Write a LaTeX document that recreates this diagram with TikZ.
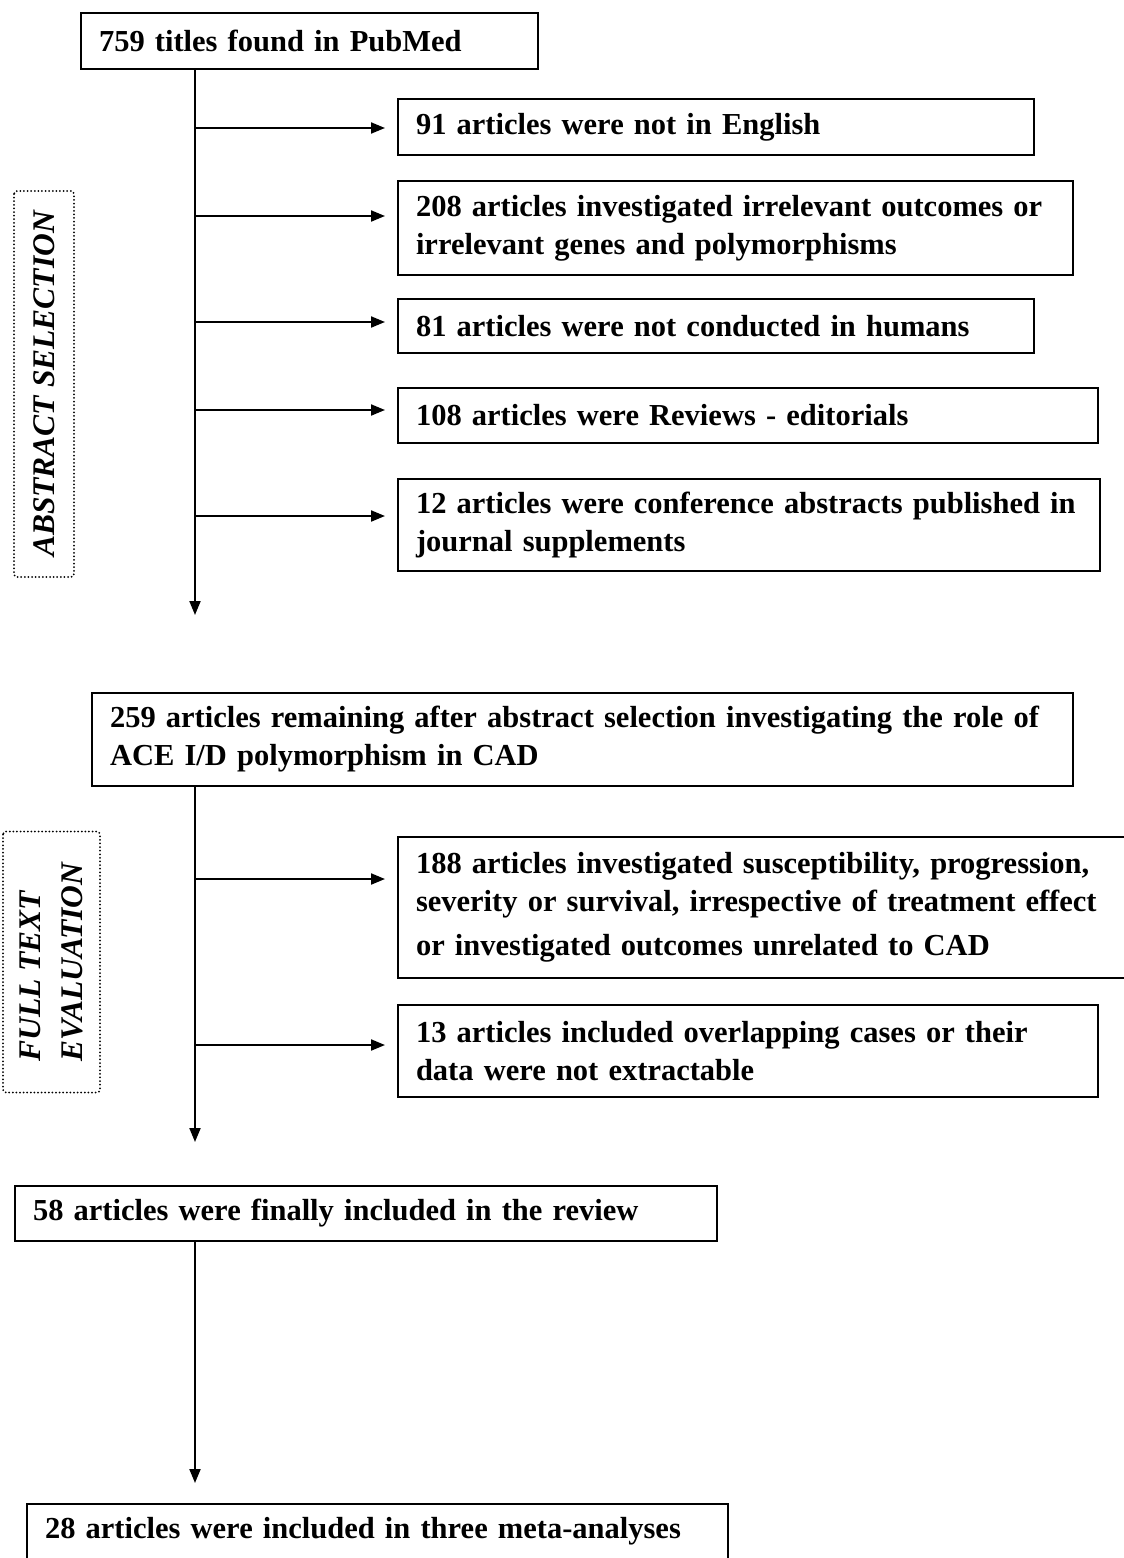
\documentclass[tikz,border=0pt]{standalone}
\usepackage{fontspec}
\setmainfont{Liberation Serif}
\usepackage{tikz}
\usetikzlibrary{arrows.meta}

\tikzset{
    box/.style={draw, line width=2pt, anchor=north west, inner xsep=18pt, inner ysep=0pt,
        align=left, font=\fontsize{30.5}{38}\selectfont\bfseries},
    stage/.style={draw, line width=2pt, dash pattern=on 0pt off 3.6pt, line cap=round,
        rounded corners=3pt, rotate=90, align=left, inner sep=0pt,
        font=\fontsize{31.5}{42}\selectfont\bfseries\itshape},
    flow/.style={line width=2pt, -{Triangle[length=14pt,width=11pt]}},
}

\begin{document}
\begin{tikzpicture}[x=1pt, y=-1pt]
        \clip (0,0) rectangle (1124,1558);
        \fill[white] (0,0) rectangle (1124,1558);

        \node[box, text width=421pt, minimum height=56pt] (titles) at (80,12) {759 titles found in PubMed};
        \node[box, text width=600pt, minimum height=56pt] (b1) at (397,98) {91 articles were not in English};
        \node[box, text width=639pt, minimum height=94pt] (b2) at (397,180) {\mbox{208 articles investigated irrelevant outcomes or}\\ irrelevant genes and polymorphisms};
        \node[box, text width=600pt, minimum height=54pt] (b3) at (397,298) {81 articles were not conducted in humans};
        \node[box, text width=664pt, minimum height=55pt] (b4) at (397,387) {108 articles were Reviews - editorials};
        \node[box, text width=666pt, minimum height=92pt] (b5) at (397,478) {\mbox{12 articles were conference abstracts published in}\\ journal supplements};
        \node[stage, minimum width=386pt, minimum height=60pt] (abst) at (44,384) {ABSTRACT SELECTION};

        \node[box, text width=945pt, minimum height=93pt] (remain) at (91,692) {\mbox{259 articles remaining after abstract selection investigating the role of}\\ ACE I/D polymorphism in CAD};
        \node[box, text width=724pt, minimum height=141pt] (b6) at (397,836) {\mbox{188 articles investigated susceptibility, progression,}\\ \mbox{severity or survival, irrespective of treatment effect}\\[6pt] or investigated outcomes unrelated to CAD};
        \node[box, text width=664pt, minimum height=92pt] (b7) at (397,1004) {13 articles included overlapping cases or their\\ data were not extractable};
        \node[stage, minimum width=261pt, minimum height=97pt] (full) at (51.5,962) {FULL TEXT\\ EVALUATION};

        \node[box, text width=666pt, minimum height=55pt] (incl) at (14,1185) {58 articles were finally included in the review};
        \node[box, text width=665pt, minimum height=55pt] (meta) at (26,1503) {28 articles were included in three meta-analyses};

        % trunk: titles -> remain
        \coordinate (end1) at (195,615);
        \draw[flow] (titles.south -| end1) -- (end1);

        % trunk -> exclusions
        \coordinate (s1) at (195,128);
        \coordinate (s2) at (195,216);
        \coordinate (s3) at (195,322);
        \coordinate (s4) at (195,410);
        \coordinate (s5) at (195,516);
        \draw[flow, shorten >=12pt] (s1) -- (s1 -| b1.west);
        \draw[flow, shorten >=12pt] (s2) -- (s2 -| b2.west);
        \draw[flow, shorten >=12pt] (s3) -- (s3 -| b3.west);
        \draw[flow, shorten >=12pt] (s4) -- (s4 -| b4.west);
        \draw[flow, shorten >=12pt] (s5) -- (s5 -| b5.west);

        % trunk: remain -> incl
        \coordinate (end2) at (195,1142);
        \draw[flow] (remain.south -| end2) -- (end2);
        \coordinate (s6) at (195,879);
        \coordinate (s7) at (195,1045);
        \draw[flow, shorten >=12pt] (s6) -- (s6 -| b6.west);
        \draw[flow, shorten >=12pt] (s7) -- (s7 -| b7.west);

        % incl -> meta
        \coordinate (end3) at (195,1483);
        \draw[flow] (incl.south -| end3) -- (end3);
    \end{tikzpicture}
\end{document}
